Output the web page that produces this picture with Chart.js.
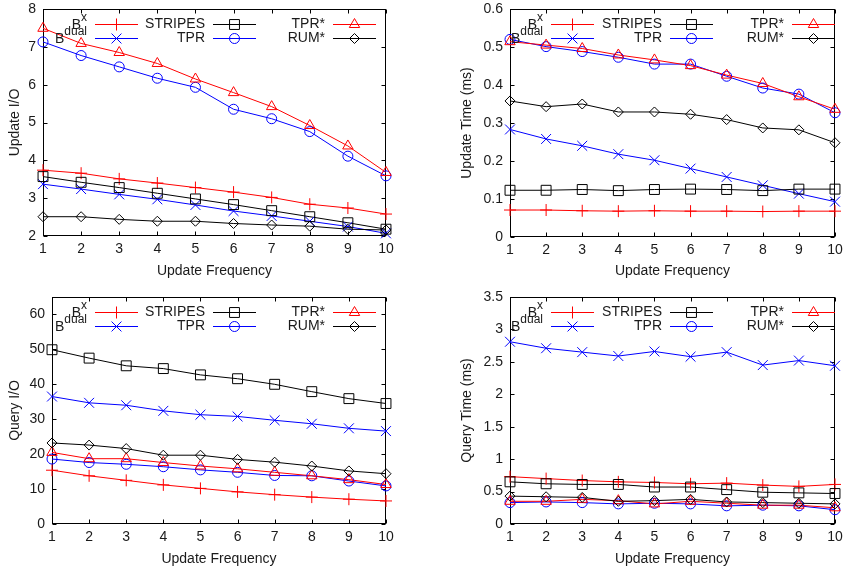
<!DOCTYPE html>
<html><head><meta charset="utf-8">
<script src="https://cdn.jsdelivr.net/npm/chart.js@4/dist/chart.umd.min.js"></script>
<style>
html,body{margin:0;padding:0;background:#fff;}
#wrap{position:relative;width:844px;height:574px;overflow:hidden;}
.cell{position:absolute;height:287px;}
canvas{display:block;}
</style></head><body>
<div id="wrap">
<div class="cell" style="left:0;top:0;width:422px"><canvas id="c1" width="422" height="287"></canvas></div>
<div class="cell" style="left:422px;top:0;width:440px"><canvas id="c2" width="440" height="287"></canvas></div>
<div class="cell" style="left:0;top:287px;width:422px"><canvas id="c3" width="422" height="287"></canvas></div>
<div class="cell" style="left:422px;top:287px;width:440px"><canvas id="c4" width="440" height="287"></canvas></div>
</div>
<script>
// ---------- DATA ----------
const updateFreq = [1, 2, 3, 4, 5, 6, 7, 8, 9, 10];
const seriesNames = ['B^x', 'B^dual', 'STRIPES', 'TPR', 'TPR*', 'RUM*'];

// Update I/O
const uio_Bx      = [3.74, 3.66, 3.51, 3.40, 3.28, 3.16, 3.02, 2.84, 2.74, 2.58];
const uio_Bdual   = [3.37, 3.24, 3.10, 2.97, 2.82, 2.66, 2.53, 2.39, 2.25, 2.07];
const uio_STRIPES = [3.57, 3.42, 3.28, 3.13, 2.98, 2.83, 2.67, 2.51, 2.35, 2.18];
const uio_TPR     = [7.13, 6.77, 6.47, 6.17, 5.93, 5.35, 5.10, 4.76, 4.11, 3.59];
const uio_TPRs    = [7.49, 7.09, 6.85, 6.56, 6.15, 5.79, 5.42, 4.92, 4.38, 3.68];
const uio_RUMs    = [2.51, 2.51, 2.44, 2.39, 2.39, 2.33, 2.29, 2.26, 2.18, 2.16];

// Update Time (ms)
const ut_Bx      = [0.071, 0.071, 0.069, 0.068, 0.069, 0.068, 0.068, 0.067, 0.068, 0.068];
const ut_Bdual   = [0.283, 0.258, 0.240, 0.218, 0.202, 0.180, 0.158, 0.136, 0.114, 0.093];
const ut_STRIPES = [0.123, 0.123, 0.125, 0.122, 0.125, 0.126, 0.125, 0.122, 0.126, 0.126];
const ut_TPR     = [0.520, 0.501, 0.488, 0.473, 0.455, 0.455, 0.423, 0.392, 0.376, 0.327];
const ut_TPRs    = [0.514, 0.505, 0.496, 0.479, 0.466, 0.451, 0.426, 0.404, 0.369, 0.336];
const ut_RUMs    = [0.358, 0.343, 0.350, 0.329, 0.329, 0.323, 0.309, 0.287, 0.282, 0.248];

// Query I/O
const qio_Bx      = [15.4, 13.8, 12.5, 11.2, 10.2, 9.2, 8.4, 7.7, 7.1, 6.6];
const qio_Bdual   = [36.5, 34.7, 34.0, 32.4, 31.3, 30.8, 29.7, 28.7, 27.4, 26.6];
const qio_STRIPES = [49.9, 47.5, 45.3, 44.5, 42.7, 41.6, 40.0, 37.9, 35.9, 34.5];
const qio_TPR     = [18.6, 17.6, 17.1, 16.4, 15.5, 14.8, 13.9, 13.8, 12.3, 10.9];
const qio_TPRs    = [20.5, 18.7, 18.7, 17.6, 16.6, 15.8, 14.8, 13.8, 12.7, 11.3];
const qio_RUMs    = [23.2, 22.6, 21.6, 19.7, 19.7, 18.5, 17.7, 16.6, 15.2, 14.4];

// Query Time (ms)
const qt_Bx      = [0.73, 0.70, 0.67, 0.65, 0.64, 0.62, 0.63, 0.60, 0.58, 0.61];
const qt_Bdual   = [2.81, 2.71, 2.65, 2.59, 2.66, 2.58, 2.65, 2.45, 2.52, 2.44];
const qt_STRIPES = [0.65, 0.62, 0.61, 0.61, 0.57, 0.57, 0.53, 0.49, 0.48, 0.47];
const qt_TPR     = [0.33, 0.34, 0.33, 0.31, 0.32, 0.31, 0.28, 0.29, 0.28, 0.22];
const qt_TPRs    = [0.35, 0.35, 0.38, 0.36, 0.31, 0.35, 0.32, 0.29, 0.29, 0.25];
const qt_RUMs    = [0.43, 0.42, 0.41, 0.35, 0.36, 0.38, 0.34, 0.33, 0.32, 0.31];

// Tick values
const xTicks   = [1, 2, 3, 4, 5, 6, 7, 8, 9, 10];
const uioTicks = [2, 3, 4, 5, 6, 7, 8];
const utTicks  = [0, 0.1, 0.2, 0.3, 0.4, 0.5, 0.6];
const qioTicks = [0, 10, 20, 30, 40, 50, 60];
const qtTicks  = [0, 0.5, 1, 1.5, 2, 2.5, 3, 3.5];

// ---------- STYLE ----------
const FONT = '"Liberation Sans", Arial, Helvetica, sans-serif';
const TXT = '#1a1a1a';
const colors = ['#ff0000', '#0000ff', '#000000', '#0000ff', '#ff0000', '#000000'];
const styles = ['cross', 'crossRot', 'rect', 'circle', 'triangle', 'rectRot'];
const radii  = [6, 7, 7, 5, 6, 5];

function drawMarker(ctx, style, r, x, y, color) {
  ctx.save();
  ctx.strokeStyle = color; ctx.lineWidth = 1;
  ctx.beginPath();
  if (style === 'cross') {
    ctx.moveTo(x - r, y); ctx.lineTo(x + r, y);
    ctx.moveTo(x, y - r); ctx.lineTo(x, y + r);
  } else if (style === 'crossRot') {
    const d = r * Math.SQRT1_2;
    ctx.moveTo(x - d, y - d); ctx.lineTo(x + d, y + d);
    ctx.moveTo(x - d, y + d); ctx.lineTo(x + d, y - d);
  } else if (style === 'rect') {
    const s = r * Math.SQRT1_2;
    ctx.rect(x - s, y - s, 2 * s, 2 * s);
  } else if (style === 'circle') {
    ctx.arc(x, y, r, 0, Math.PI * 2);
  } else if (style === 'triangle') {
    const w = r * Math.sqrt(3);
    ctx.moveTo(x, y - r); ctx.lineTo(x + w / 2, y + r / 2); ctx.lineTo(x - w / 2, y + r / 2); ctx.closePath();
  } else if (style === 'rectRot') {
    ctx.moveTo(x, y - r); ctx.lineTo(x + r, y); ctx.lineTo(x, y + r); ctx.lineTo(x - r, y); ctx.closePath();
  }
  ctx.stroke();
  ctx.restore();
}

const framePlugin = {
  id: 'frame',
  beforeDatasetsDraw(chart) {
    const ctx = chart.ctx, a = chart.chartArea;
    const L = Math.round(a.left) + 0.5, R = Math.round(a.right) - 0.5;
    const T = Math.round(a.top) + 0.5, B = Math.round(a.bottom) - 0.5;
    ctx.save();
    ctx.strokeStyle = '#000'; ctx.lineWidth = 1;
    ctx.beginPath();
    const tl = 4;
    const xs = chart.scales.x, ys = chart.scales.y;
    xs.ticks.forEach(t => {
      const px = Math.round(xs.getPixelForValue(t.value)) + 0.5;
      ctx.moveTo(px, B); ctx.lineTo(px, B - tl);
      ctx.moveTo(px, T); ctx.lineTo(px, T + tl);
    });
    ys.ticks.forEach(t => {
      const py = Math.round(ys.getPixelForValue(t.value)) + 0.5;
      ctx.moveTo(L, py); ctx.lineTo(L + tl, py);
      ctx.moveTo(R, py); ctx.lineTo(R - tl, py);
    });
    ctx.stroke();
    ctx.strokeRect(L, T, R - L, B - T);
    ctx.restore();
  }
};

const keyPlugin = {
  id: 'gkey',
  afterDatasetsDraw(chart, args, opts) {
    const ctx = chart.ctx, a = chart.chartArea;
    ctx.save();
    chart.data.datasets.forEach((ds, i) => {
      const col = Math.floor(i / 2), row = i % 2;
      const xr = opts.cols[col];
      const yc = a.top + 15 + row * 14;
      const parts = ds.label.split('^');
      const main = parts[0], sup = parts[1] || '';
      const c = colors[i];
      ctx.fillStyle = TXT;
      ctx.textBaseline = 'middle';
      ctx.textAlign = 'left';
      ctx.font = '14px ' + FONT;
      const wm = ctx.measureText(main).width;
      ctx.font = '12px ' + FONT;
      const ws = sup ? ctx.measureText(sup).width : 0;
      const x0 = xr - wm - ws;
      ctx.font = '14px ' + FONT;
      ctx.fillText(main, x0, yc + (sup ? 1.5 : 0));
      if (sup) { ctx.font = '12px ' + FONT; ctx.fillText(sup, x0 + wm, yc - 6); }
      const lx0 = xr + 8, lx1 = xr + 51;
      const yy = Math.round(yc) + 0.5;
      ctx.strokeStyle = c; ctx.lineWidth = 1;
      ctx.beginPath(); ctx.moveTo(lx0, yy); ctx.lineTo(lx1, yy); ctx.stroke();
      drawMarker(ctx, styles[i], radii[i], (lx0 + lx1) / 2, yy, c);
    });
    ctx.restore();
  }
};

const markerPlugin = {
  id: 'gmarkers',
  afterDatasetsDraw(chart) {
    const ctx = chart.ctx;
    chart.data.datasets.forEach((ds, i) => {
      const meta = chart.getDatasetMeta(i);
      meta.data.forEach(pt => drawMarker(ctx, styles[i], radii[i], pt.x, pt.y, colors[i]));
    });
  }
};

function makeChart(id, yTitle, series, yMin, yMax, yTickVals, g) {
  const W = document.getElementById(id).width;
  const datasets = series.map((vals, i) => ({
    label: seriesNames[i],
    data: updateFreq.map((x, k) => ({ x: x, y: vals[k] })),
    borderColor: colors[i],
    backgroundColor: colors[i],
    borderWidth: 1,
    pointRadius: 0,
    pointHoverRadius: 0,
    tension: 0,
    clip: false,
    order: series.length - i
  }));
  const hidden = 'rgba(0,0,0,0)';
  return new Chart(document.getElementById(id), {
    type: 'line',
    data: { datasets },
    options: {
      responsive: false,
      animation: false,
      events: [],
      layout: { padding: { left: 0, top: g.top, right: W - g.right, bottom: 0 } },
      plugins: { legend: { display: false }, tooltip: { enabled: false }, gkey: { cols: g.cols } },
      scales: {
        x: {
          type: 'linear', min: 1, max: 10,
          afterBuildTicks: s => { s.ticks = xTicks.map(v => ({ value: v })); },
          afterFit: s => { s.height = 287 - g.bottom; },
          grid: { display: true, drawOnChartArea: false, drawTicks: true, tickLength: 5, color: hidden },
          border: { display: false },
          ticks: { color: TXT, font: { family: FONT, size: 14 }, padding: 0, maxRotation: 0, autoSkip: false, callback: v => String(v) },
          title: { display: true, text: 'Update Frequency', color: TXT, font: { family: FONT, size: 14 }, padding: { top: 0, bottom: g.xtp } }
        },
        y: {
          type: 'linear', min: yMin, max: yMax,
          afterBuildTicks: s => { s.ticks = yTickVals.map(v => ({ value: v })); },
          afterFit: s => { s.width = g.left; },
          grid: { display: true, drawOnChartArea: false, drawTicks: true, tickLength: 7, color: hidden },
          border: { display: false },
          ticks: { color: TXT, font: { family: FONT, size: 14 }, padding: 0, callback: v => String(v) },
          title: { display: true, text: yTitle, color: TXT, font: { family: FONT, size: 14 }, padding: { top: g.ytp, bottom: 0 } }
        }
      }
    },
    plugins: [framePlugin, markerPlugin, keyPlugin]
  });
}

makeChart('c1', 'Update I/O', [uio_Bx, uio_Bdual, uio_STRIPES, uio_TPR, uio_TPRs, uio_RUMs], 2, 8, uioTicks,
  { left: 43, right: 386, top: 9, bottom: 236, xtp: 7, ytp: 7, cols: [87, 205, 325] });
makeChart('c2', 'Update Time (ms)', [ut_Bx, ut_Bdual, ut_STRIPES, ut_TPR, ut_TPRs, ut_RUMs], 0, 0.6, utTicks,
  { left: 88, right: 413, top: 9, bottom: 237, xtp: 7, ytp: 37, cols: [121, 240, 362] });
makeChart('c3', 'Query I/O', [qio_Bx, qio_Bdual, qio_STRIPES, qio_TPR, qio_TPRs, qio_RUMs], 0, 65, qioTicks,
  { left: 52, right: 386, top: 10, bottom: 237, xtp: 6, ytp: 7, cols: [87, 205, 325] });
makeChart('c4', 'Query Time (ms)', [qt_Bx, qt_Bdual, qt_STRIPES, qt_TPR, qt_TPRs, qt_RUMs], 0, 3.5, qtTicks,
  { left: 88, right: 413, top: 10, bottom: 237, xtp: 6, ytp: 37, cols: [121, 240, 362] });
</script>
</body></html>
